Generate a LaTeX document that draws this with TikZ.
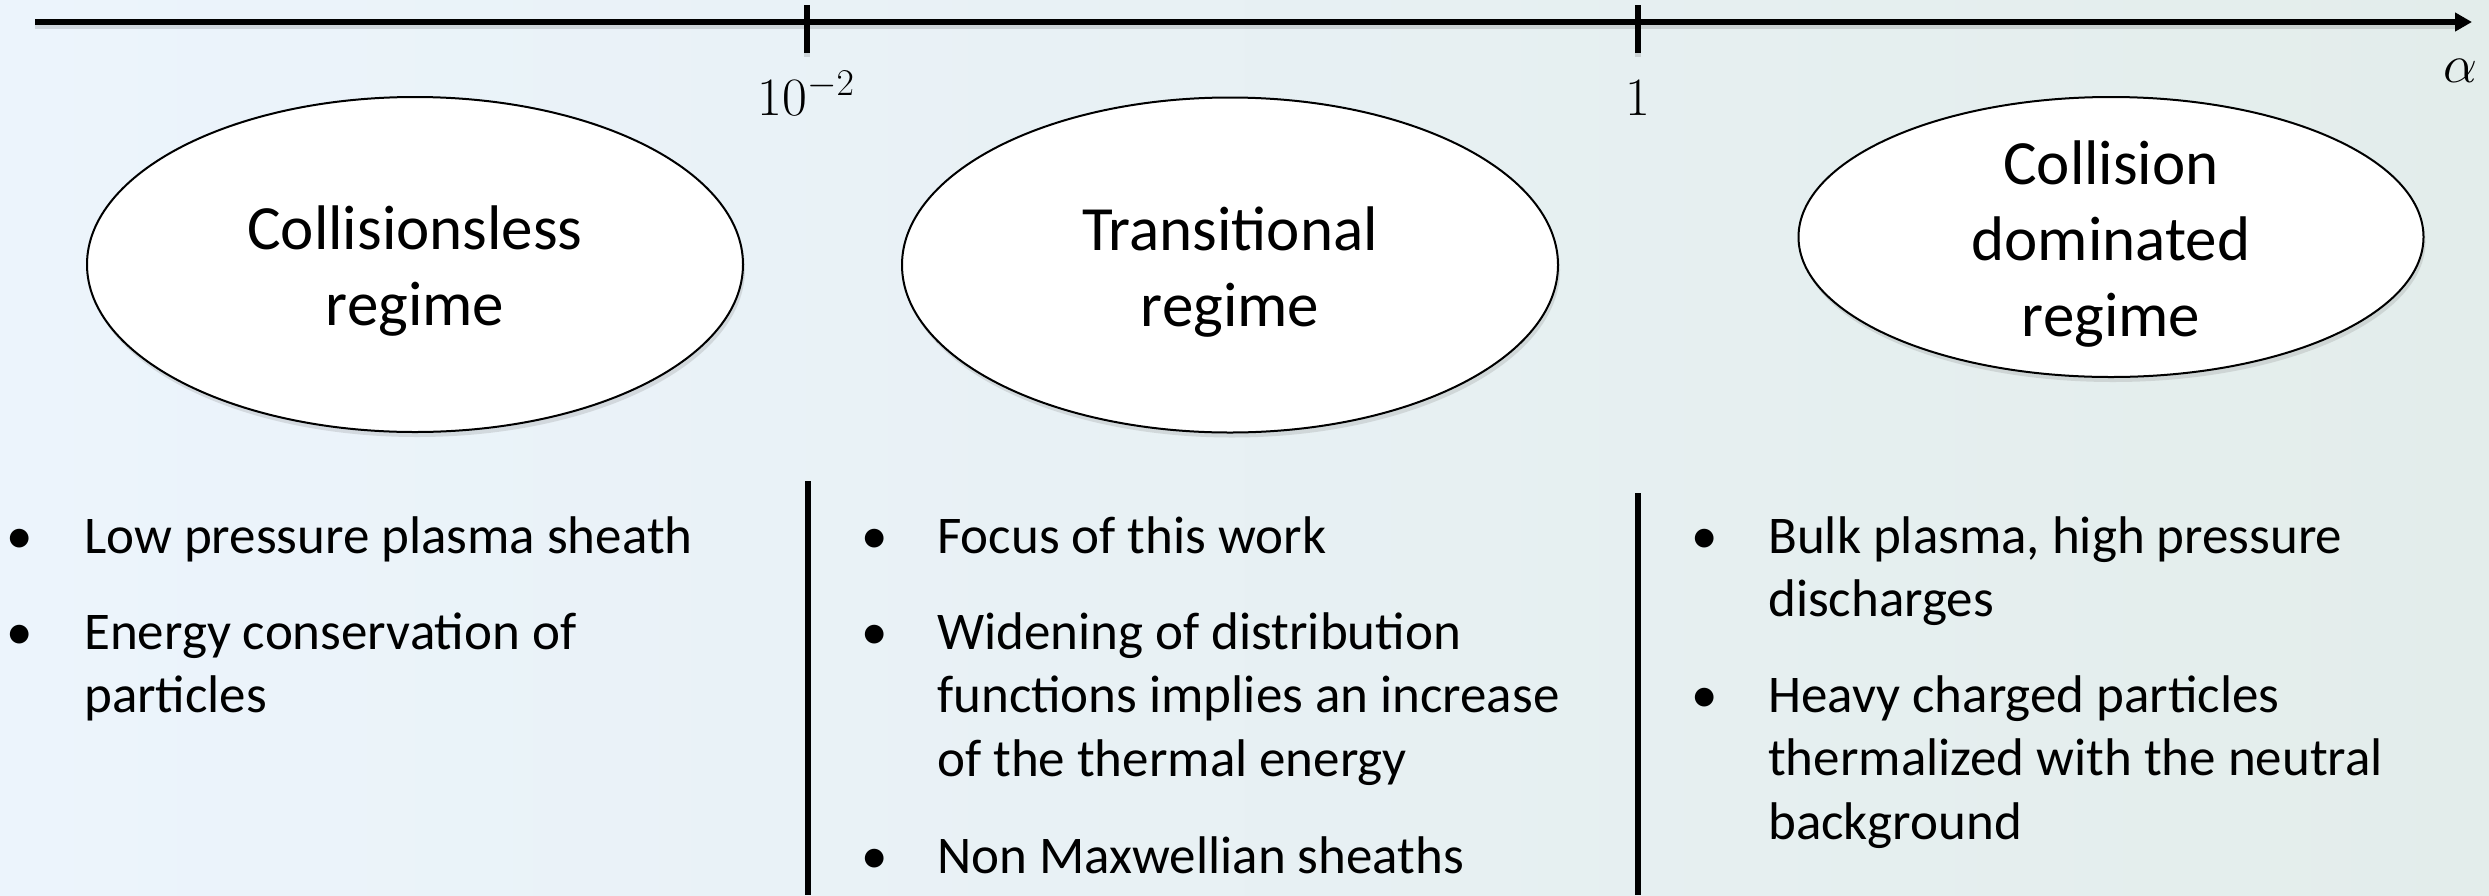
\RequirePackage{fix-cm}
\documentclass[tikz,border=0pt]{standalone}
\usepackage[no-math]{fontspec}
\setmainfont{Carlito}
\usetikzlibrary{shapes.geometric,arrows.meta,shadows}
\definecolor{bgL}{RGB}{236,244,252}
\definecolor{bgR}{RGB}{227,237,235}
\begin{document}
\begin{tikzpicture}[x=1pt,y=-1pt,
  axisline/.style={line width=5.5pt, black},
  shadowline/.style={line width=6pt, black, opacity=0.12},
  barline/.style={line width=5.5pt, black},
  regime/.style={ellipse, draw=black, line width=2pt, fill=white, inner sep=0pt,
    drop shadow={shadow xshift=2pt, shadow yshift=-5pt, opacity=0.22}},
  regtext/.style={font=\fontsize{63}{76}\selectfont, align=center, inner sep=0pt},
  ticklabel/.style={font=\fontsize{54}{60}\selectfont, anchor=base, inner sep=0pt},
  bul/.style={font=\fontsize{53}{63.5}\selectfont, anchor=base, inner sep=0pt},
  itemtext/.style={font=\fontsize{53}{63.5}\selectfont, anchor=base west, align=left, inner sep=0pt}
]
\useasboundingbox (0,0) rectangle (2489,895);
\shade[left color=bgL, right color=bgR] (0,0) rectangle (2489,895);

% axis
\coordinate (axL) at (35,22);
\coordinate (axR) at (2472,22);
\coordinate (t1top) at (807,5);
\coordinate (t1bot) at (807,53);
\coordinate (t2top) at (1638,5);
\coordinate (t2bot) at (1638,53);
\draw[shadowline] ([yshift=-4pt]axL) -- ([yshift=-4pt,xshift=-14pt]axR);
\draw[shadowline] ([yshift=-4pt]t1top) -- ([yshift=-4pt]t1bot);
\draw[shadowline] ([yshift=-4pt]t2top) -- ([yshift=-4pt]t2bot);
\draw[axisline, -{Triangle[length=17pt,width=18pt]}] (axL) -- (axR);
\draw[axisline] (t1top) -- (t1bot);
\draw[axisline] (t2top) -- (t2bot);

\node[ticklabel] (lab1) at (806,115) {$10^{-2}$};
\node[ticklabel] (lab2) at (1638,115) {$1$};
\node[ticklabel] (alpha) at (2460,82) {$\alpha$};

% regimes
\node[regime, minimum width=656pt, minimum height=335pt] (e1) at (415,264.5) {};
\node[regime, minimum width=656pt, minimum height=335pt] (e2) at (1230,265) {};
\node[regime, minimum width=625pt, minimum height=280pt] (e3) at (2111,237) {};
\node[regtext] (r1) at ([yshift=-7pt]e1.center) {Collisionsless\\regime};
\node[regtext] (r2) at ([yshift=-7pt]e2.center) {Transitional\\regime};
\node[regtext] (r3) at ([yshift=-7pt]e3.center) {Collision\\dominated\\regime};

% separators
\coordinate (b1top) at (808,481);
\coordinate (b1bot) at (808,895);
\coordinate (b2top) at (1638,493);
\coordinate (b2bot) at (1638,895);
\draw[barline] (b1top) -- (b1bot);
\draw[barline] (b2top) -- (b2bot);

% column 1 (base anchor of a multi-line node = last line's baseline)
\node[bul] (d11) at (20,553) {•};
\node[itemtext] (i11) at (84,553) {Low pressure plasma sheath};
\node[bul] (d12) at (20,649) {•};
\node[itemtext] (i12) at (84,712.5) {Energy conservation of\\particles};

% column 2
\node[bul] (d21) at (875,553) {•};
\node[itemtext] (i21) at (937,553) {Focus of this work};
\node[bul] (d22) at (875,649) {•};
\node[itemtext] (i22) at (937,776) {Widening of distribution\\functions implies an increase\\of the thermal energy};
\node[bul] (d23) at (875,873) {•};
\node[itemtext] (i23) at (937,873) {Non Maxwellian sheaths};

% column 3
\node[bul] (d31) at (1705,553) {•};
\node[itemtext] (i31) at (1768,616.5) {Bulk plasma, high pressure\\discharges};
\node[bul] (d32) at (1705,712) {•};
\node[itemtext] (i32) at (1768,839) {Heavy charged particles\\thermalized with the neutral\\background};
\end{tikzpicture}
\end{document}
